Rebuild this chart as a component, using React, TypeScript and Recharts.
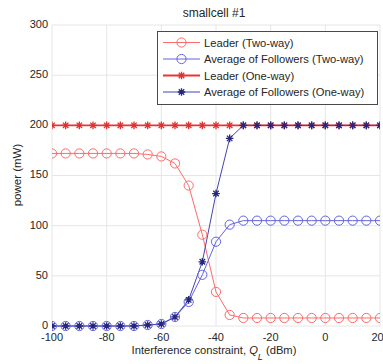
import React from 'react';
import { LineChart, Line, XAxis, YAxis, CartesianGrid, Legend } from 'recharts';

const xValues = [-100, -95, -90, -85, -80, -75, -70, -65, -60, -55, -50, -45, -40, -35, -30, -25, -20, -15, -10, -5, 0, 5, 10, 15, 20];
const leaderTwoWay = [172, 172, 172, 172, 172, 172, 172, 171, 169, 162, 140, 91, 34, 11, 8, 8, 8, 8, 8, 8, 8, 8, 8, 8, 8];
const followersTwoWay = [0, 0, 0, 0, 0, 0, 0, 1, 2, 9, 24, 51, 84, 101, 105, 105, 105, 105, 105, 105, 105, 105, 105, 105, 105];
const leaderOneWay = [200, 200, 200, 200, 200, 200, 200, 200, 200, 200, 200, 200, 200, 200, 200, 200, 200, 200, 200, 200, 200, 200, 200, 200, 200];
const followersOneWay = [0, 0, 0, 0, 0, 0, 0, 1, 2, 9, 26, 64, 132, 187, 200, 200, 200, 200, 200, 200, 200, 200, 200, 200, 200];

const xTicks = [-100, -80, -60, -40, -20, 0, 20];
const yTicks = [0, 50, 100, 150, 200, 250, 300];

const seriesNames = ['Leader (Two-way)', 'Average of Followers (Two-way)', 'Leader (One-way)', 'Average of Followers (One-way)'];
const seriesColors = ['#ff6a6a', '#6464e0', '#ec3434', '#4444b4'];
const markerColors = ['#ff6a6a', '#6464e0', '#e03030', '#26267e'];
const seriesMarkers = ['circle', 'circle', 'star', 'star'];
const seriesWidths = [1, 1, 1.8, 1];

const data = xValues.map((x, i) => ({
  x,
  lt: leaderTwoWay[i],
  ft: followersTwoWay[i],
  lo: leaderOneWay[i],
  fo: followersOneWay[i],
}));

const FONT = '"Liberation Sans", Arial, sans-serif';

function Marker({ cx, cy, kind, color }: { cx: number; cy: number; kind: string; color: string }) {
  if (kind === 'circle') {
    return <circle cx={cx} cy={cy} r={4.6} fill="none" stroke={color} strokeWidth={1} />;
  }
  const r = 3.8;
  const d = r * 0.72;
  return (
    <path
      d={`M${cx - r},${cy}L${cx + r},${cy}M${cx},${cy - r}L${cx},${cy + r}M${cx - d},${cy - d}L${cx + d},${cy + d}M${cx - d},${cy + d}L${cx + d},${cy - d}`}
      stroke={color}
      strokeWidth={1.3}
      fill="none"
    />
  );
}

const makeDot = (kind: string, color: string) => (props: any) => {
  const { cx, cy, index } = props;
  if (cx == null || cy == null) return <g key={`d-${index}`} />;
  return (
    <g key={`d-${index}`}>
      <Marker cx={cx} cy={cy} kind={kind} color={color} />
    </g>
  );
};

function LegendBox() {
  return (
    <svg width={221} height={74} style={{ display: 'block' }}>
      <rect x={0.5} y={0.5} width={220} height={73} fill="#ffffff" stroke="#4a4a4a" strokeWidth={1} />
      {seriesNames.map((name, i) => {
        const y = 11.5 + i * 16.5;
        return (
          <g key={name}>
            <line x1={6} y1={y} x2={43} y2={y} stroke={seriesColors[i]} strokeWidth={seriesWidths[i]} />
            <Marker cx={24.5} cy={y} kind={seriesMarkers[i]} color={markerColors[i]} />
            <text x={47} y={y} dominantBaseline="central" fontFamily={FONT} fontSize={11.2} fill="#262626">
              {name}
            </text>
          </g>
        );
      })}
    </svg>
  );
}

export default function App() {
  const keys = ['lt', 'ft', 'lo', 'fo'];
  return (
    <div style={{ position: 'absolute', left: 0, top: 0, width: 383, height: 364, background: '#ffffff' }}>
      <div
        style={{
          position: 'absolute',
          left: 114,
          width: 200,
          top: 5,
          textAlign: 'center',
          fontFamily: FONT,
          fontSize: 12,
          color: '#262626',
          lineHeight: '16px',
        }}
      >
        smallcell #1
      </div>
      <LineChart width={383} height={364} data={data} margin={{ top: 25, right: 3, left: 0, bottom: 0 }}>
        <CartesianGrid stroke="#e6e6e6" strokeWidth={1} horizontalValues={yTicks} verticalValues={xTicks} />
        <XAxis
          type="number"
          dataKey="x"
          domain={[-100, 20]}
          ticks={xTicks}
          allowDataOverflow
          height={38}
          axisLine={false}
          tickLine={false}
          tickSize={0}
          tickMargin={7}
          tick={{ fontFamily: FONT, fontSize: 11, fill: '#262626' }}
          label={(props: any) => {
            const vb = props.viewBox || { x: 52, width: 328 };
            const cx = vb.x + vb.width / 2 - 2;
            return (
              <text x={cx} y={354} textAnchor="middle" fontFamily={FONT} fontSize={11.2} fill="#262626">
                <tspan>Interference constraint, </tspan>
                <tspan fontStyle="italic">Q</tspan>
                <tspan fontStyle="italic" fontSize={9} dy={6}>L</tspan>
                <tspan dy={-6}> (dBm)</tspan>
              </text>
            );
          }}
        />
        <YAxis
          type="number"
          domain={[0, 300]}
          ticks={yTicks}
          width={52}
          axisLine={false}
          tickLine={false}
          tickSize={0}
          tickMargin={4}
          tick={{ fontFamily: FONT, fontSize: 11, fill: '#262626', dy: -1 }}
          label={() => (
            <text
              x={17}
              y={175}
              transform="rotate(-90, 17, 175)"
              textAnchor="middle"
              dominantBaseline="central"
              fontFamily={FONT}
              fontSize={11.5}
              fill="#262626"
            >
              power (mW)
            </text>
          )}
        />
        <Legend
          layout="horizontal"
          verticalAlign="middle"
          align="center"
          wrapperStyle={{ position: 'absolute', left: 157, top: 31, width: 221, height: 74 }}
          content={() => <LegendBox />}
        />
        {keys.map((k, i) => (
          <Line
            key={k}
            type="linear"
            dataKey={k}
            name={seriesNames[i]}
            stroke={seriesColors[i]}
            strokeWidth={seriesWidths[i]}
            dot={makeDot(seriesMarkers[i], markerColors[i])}
            activeDot={false}
            isAnimationActive={false}
          />
        ))}
      </LineChart>
    </div>
  );
}
